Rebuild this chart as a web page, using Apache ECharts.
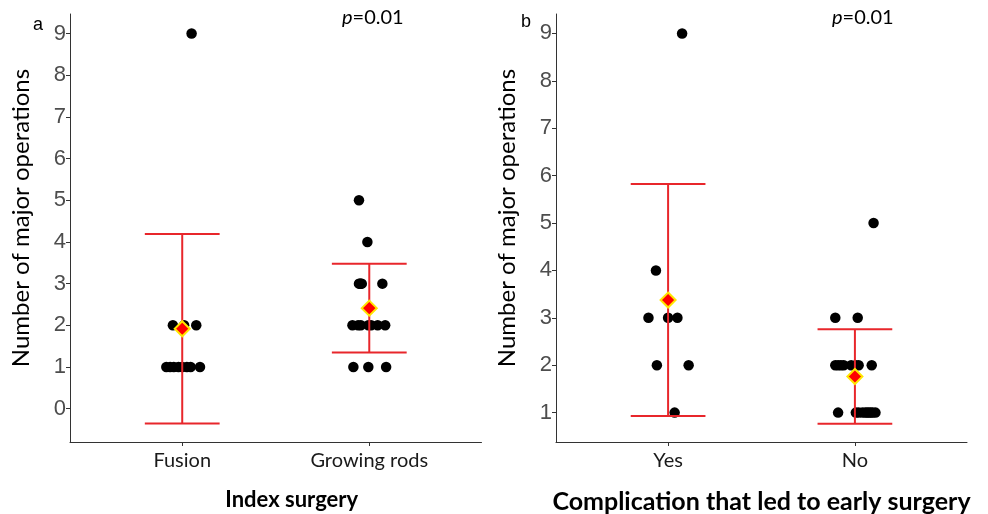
<!DOCTYPE html>
<html>
<head>
<meta charset="utf-8">
<script src="https://cdn.jsdelivr.net/npm/echarts@6/dist/echarts.min.js"></script>
<style>html,body{margin:0;padding:0;background:#fff;}#c{width:988px;height:514px;}</style>
</head>
<body>
<div id="c"></div>
<script>
// ---- Data ----
const catsA = ['Fusion', 'Growing rods'];
const catsB = ['Yes', 'No'];
const yTicksA = [0, 1, 2, 3, 4, 5, 6, 7, 8, 9];
const yTicksB = [1, 2, 3, 4, 5, 6, 7, 8, 9];

const fusion = [9, 2, 2, 2, 1, 1, 1, 1, 1, 1, 1, 1];
const fusionJitter = [0.05, -0.05, 0.01, 0.075, -0.085, -0.065, -0.045, -0.02, 0, 0.025, 0.045, 0.095];
const growingRods = [5, 4, 3, 3, 3, 3, 3, 2, 2, 2, 2, 2, 2, 2, 1, 1, 1];
const growingJitter = [-0.055, -0.01, -0.055, -0.045, -0.04, 0.07, -0.05, -0.09, -0.06, -0.045, -0.005, 0.01, 0.045, 0.085, -0.085, -0.005, 0.09];

const compYes = [9, 4, 3, 3, 3, 2, 2, 1];
const yesJitter = [0.075, -0.065, -0.105, 0, 0.05, -0.06, 0.11, 0.035];
const compNo = [5, 3, 3, 2, 2, 2, 2, 2, 2, 2, 2, 1, 1, 1, 1, 1, 1, 1, 1, 1, 1];
const noJitter = [0.10, -0.105, 0.015, -0.105, -0.09, -0.075, -0.06, -0.02, 0.005, 0.02, 0.09, -0.09, 0.005, 0.02, 0.04, 0.055, 0.065, 0.075, 0.085, 0.095, 0.11];

// ---- Helpers ----
function mean(a) { return a.reduce((s, v) => s + v, 0) / a.length; }
function sd(a) { const m = mean(a); return Math.sqrt(a.reduce((s, v) => s + (v - m) * (v - m), 0) / (a.length - 1)); }
function pts(vals, jit, pos) { return vals.map((v, i) => [pos + jit[i], v]); }
function summ(groups) {
  return groups.map((g, i) => { const m = mean(g), s = sd(g); return [i + 1, m - s, m + s, m]; });
}

const summA = summ([fusion, growingRods]);
const summB = summ([compYes, compNo]);

const RED = '#E8262B';
const AXC = '#333333';
const labelFont = 'Lato, "Liberation Sans", sans-serif';

function xAxisDef(gi, cats, name, nameSize, namePad) {
  return {
    type: 'value', gridIndex: gi, min: 0.4, max: 2.6,
    name: name, nameLocation: 'middle', nameGap: 47,
    nameTextStyle: { fontFamily: labelFont, fontWeight: 'bold', fontSize: nameSize, color: '#000', padding: namePad },
    axisLine: { show: true, onZero: false, lineStyle: { color: AXC, width: 1 } },
    axisTick: { show: true, length: 4, customValues: [1, 2], lineStyle: { color: AXC } },
    axisLabel: { customValues: [1, 2], formatter: v => cats[Math.round(v) - 1] || '', margin: 9,
      fontFamily: labelFont, fontSize: 20, color: '#1a1a1a' },
    splitLine: { show: false }
  };
}
function yAxisDef(gi, ticks, mn, mx) {
  return {
    type: 'value', gridIndex: gi, min: mn, max: mx,
    name: 'Number of major operations', nameLocation: 'middle', nameGap: 37,
    nameTextStyle: { fontFamily: labelFont, fontSize: 24, color: '#000', padding: [0, 0, 0, 20] },
    axisLine: { show: true, onZero: false, lineStyle: { color: AXC, width: 1 } },
    axisTick: { show: true, length: 4, customValues: ticks, lineStyle: { color: AXC } },
    axisLabel: { customValues: ticks, margin: 4, fontFamily: '"Liberation Sans", Arial, sans-serif', fontSize: 22, color: '#4D4D4D' },
    splitLine: { show: false }
  };
}

function errRender(params, api) {
  const x = api.value(0), lo = api.value(1), hi = api.value(2);
  const pHi = api.coord([x, hi]);
  const pLo = api.coord([x, lo]);
  const hw = api.size([0.2, 0])[0];
  const st = { stroke: RED, lineWidth: 2 };
  return { type: 'group', children: [
    { type: 'line', shape: { x1: pHi[0], y1: pHi[1], x2: pLo[0], y2: pLo[1] }, style: st },
    { type: 'line', shape: { x1: pHi[0] - hw, y1: pHi[1], x2: pHi[0] + hw, y2: pHi[1] }, style: st },
    { type: 'line', shape: { x1: pLo[0] - hw, y1: pLo[1], x2: pLo[0] + hw, y2: pLo[1] }, style: st }
  ]};
}

function panelSeries(gi, groups, jitters, summary) {
  const s = [];
  groups.forEach((g, i) => {
    s.push({ type: 'scatter', xAxisIndex: gi, yAxisIndex: gi, data: pts(g, jitters[i], i + 1),
      symbol: 'circle', symbolSize: 10.5, itemStyle: { color: '#000', opacity: 1 }, z: 2, silent: true });
  });
  s.push({ type: 'custom', xAxisIndex: gi, yAxisIndex: gi, data: summary.map(d => [d[0], d[1], d[2]]),
    renderItem: errRender, encode: { x: 0, y: [1, 2] }, z: 3, silent: true });
  s.push({ type: 'scatter', xAxisIndex: gi, yAxisIndex: gi, data: summary.map(d => [d[0], d[3]]),
    symbol: 'diamond', symbolSize: 15, itemStyle: { color: '#FF0000', borderColor: '#FFE600', borderWidth: 2, opacity: 1 }, z: 4, silent: true });
  return s;
}

const pRich = {
  i: { fontStyle: 'italic', fontSize: 20, fontFamily: labelFont, fill: '#000' },
  n: { fontSize: 20, fontFamily: labelFont, fill: '#000' }
};

const chart = echarts.init(document.getElementById('c'), null, { renderer: 'canvas' });
chart.setOption({
  animation: false,
  backgroundColor: '#fff',
  grid: [
    { left: 70, right: 988 - 481.5, top: 14, bottom: 72, containLabel: false, outerBoundsMode: 'none' },
    { left: 556, right: 21, top: 14, bottom: 72, containLabel: false, outerBoundsMode: 'none' }
  ],
  xAxis: [xAxisDef(0, catsA, 'Index surgery', 22, [0, 0, 0, 32]), xAxisDef(1, catsB, 'Complication that led to early surgery', 25, 0)],
  yAxis: [yAxisDef(0, yTicksA, -0.8, 9.47), yAxisDef(1, yTicksB, 0.38, 9.41)],
  graphic: [
    { type: 'text', left: 33, top: 16, style: { text: 'a', font: '18px "Liberation Sans", Arial', fill: '#000' } },
    { type: 'text', left: 521, top: 13, style: { text: 'b', font: '18px "Liberation Sans", Arial', fill: '#000' } },
    { type: 'text', left: 342, top: 8, style: { text: '{i|p}{n|=0.01}', rich: pRich } },
    { type: 'text', left: 832, top: 8, style: { text: '{i|p}{n|=0.01}', rich: pRich } }
  ],
  series: [
    ...panelSeries(0, [fusion, growingRods], [fusionJitter, growingJitter], summA),
    ...panelSeries(1, [compYes, compNo], [yesJitter, noJitter], summB)
  ]
});
</script>
</body>
</html>
